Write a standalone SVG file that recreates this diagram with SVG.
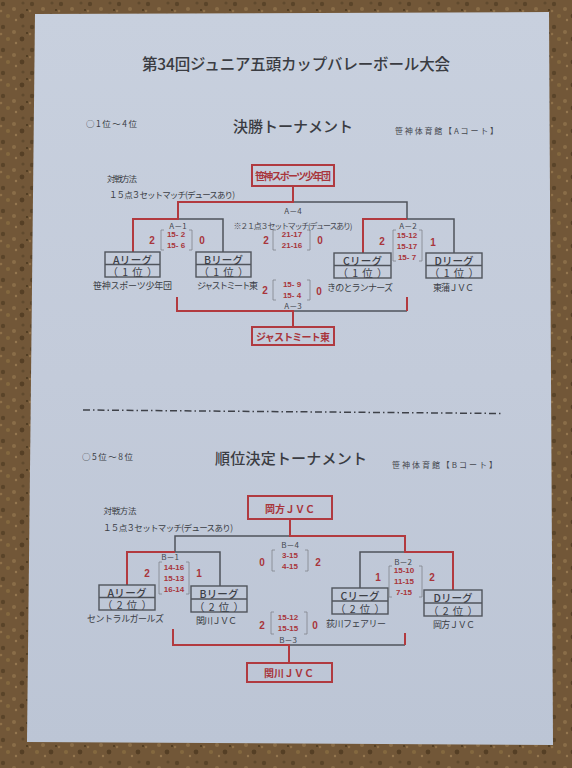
<svg xmlns="http://www.w3.org/2000/svg" width="572" height="768" viewBox="0 0 572 768">
<defs>
<pattern id="cork" width="29" height="23" patternUnits="userSpaceOnUse">
<rect width="29" height="23" fill="#725738"/>
<circle cx="3" cy="4" r="2.2" fill="#5a4429"/>
<circle cx="14" cy="9" r="2" fill="#8a6d48"/>
<circle cx="23" cy="3" r="1.6" fill="#604a2e"/>
<circle cx="8" cy="16" r="2.1" fill="#84683f"/>
<circle cx="22" cy="16" r="2.4" fill="#553f25"/>
<circle cx="16" cy="20" r="1.2" fill="#95774f"/>
<circle cx="1" cy="11" r="1.3" fill="#8e7049"/>
<circle cx="27" cy="10" r="1.1" fill="#4c391f"/>
</pattern>
<linearGradient id="paper" x1="0" y1="0" x2="0" y2="1">
<stop offset="0" stop-color="#c8d0de"/>
<stop offset="0.5" stop-color="#c3cbda"/>
<stop offset="1" stop-color="#bcc5d5"/>
</linearGradient>
<style>
text{font-family:"Noto Sans CJK JP","Noto Sans",sans-serif;fill:#3b3e45;dominant-baseline:central;text-anchor:middle}
.h1{font-size:15.5px;font-weight:500;fill:#3a3c42}
.h2{font-size:15px;font-weight:500;fill:#3a3c42}
.sm{font-size:8.5px}
.lbl{font-size:8px;fill:#45484f}
.team{font-size:9px;fill:#3b3e45}
.bx{font-size:10.5px;font-weight:500;fill:#3d4047}
.rk{font-weight:normal}
.sc{font-family:"Liberation Sans",Arial,sans-serif;font-size:8px;font-weight:bold;fill:#a8353b}
.n{font-family:"Liberation Sans",Arial,sans-serif;font-size:10px;font-weight:bold;fill:#a8353b}
.win{font-size:10px;font-weight:bold;fill:#a8353b}
.box{fill:none;stroke:#50545c;stroke-width:1.4}
.wbox{fill:none;stroke:#b03a40;stroke-width:2}
.red{fill:none;stroke:#b23a3f;stroke-width:2}
.blk{fill:none;stroke:#4f535b;stroke-width:1.5}
.brk{fill:none;stroke:#80848c;stroke-width:0.8}
</style>
</defs>
<rect width="572" height="768" fill="url(#cork)"/>
<polygon points="35,14 549,12 553,745 27,742" fill="url(#paper)"/>

<g id="header">
<text class="h1" x="296" y="63" textLength="308">第34回ジュニア五頭カップバレーボール大会</text>
</g>

<g id="sectionA-head">
<text class="sm" x="111.5" y="123" textLength="51">○1位～4位</text>
<text class="h2" x="293" y="125" textLength="120">決勝トーナメント</text>
<text class="lbl" x="446.5" y="130" font-size="10" textLength="103">笹神体育館【Aコート】</text>
<text class="sm" x="122" y="178" textLength="30">対戦方法</text>
<text class="sm" x="172" y="194" textLength="126">１５点３セットマッチ(デュースあり)</text>
</g>

<g id="connectors">
<!-- A section -->
<path class="blk" d="M293,202 H407 V219 H454 V253"/>
<path class="blk" d="M178,219 H223 V252"/>
<path class="blk" d="M293,311 H407"/>
<path class="red" d="M293,187 V202 H178 V219 H133 V252"/>
<path class="red" d="M407,219 H363 V253"/>
<path class="red" d="M177,297 V311 H293 V327"/>
<path class="red" d="M407,297 V311"/>
<!-- B section -->
<path class="blk" d="M290,536 H175 V552 H220 V586"/>
<path class="blk" d="M405,552 H360 V588"/>
<path class="blk" d="M289,645 H405"/>
<path class="red" d="M290,519 V536 H405 V552 H453 V590"/>
<path class="red" d="M175,552 H127 V585"/>
<path class="red" d="M173,629 V645 H289 V663"/>
<path class="red" d="M405,633 V645"/>
<!-- separator -->
<line x1="83" y1="410" x2="503" y2="413.5" stroke="#3e4148" stroke-width="1.5" stroke-dasharray="7,3,1.5,3"/>
</g>

<g id="A4-winner">
<rect class="wbox" x="252" y="165" width="82" height="21"/>
<text class="win" x="293" y="175.5" font-size="9.5" textLength="76">笹神スポーツ少年団</text>
</g>
<g id="A3-winner">
<rect class="wbox" x="252" y="327" width="82" height="18"/>
<text class="win" x="293" y="336" textLength="74">ジャストミート東</text>
</g>

<g id="A-league-A">
<rect class="box" x="105" y="252" width="55" height="25"/>
<line class="box" x1="105" y1="264.5" x2="160" y2="264.5"/>
<text class="bx"><tspan x="132.5" y="258.5" textLength="39">Aリーグ</tspan><tspan class="rk" x="132.5" y="271" textLength="50">（1位）</tspan></text>
<text class="team" x="132.5" y="285.5" textLength="79">笹神スポーツ少年団</text>
</g>
<g id="A-league-B">
<rect class="box" x="196" y="252" width="55" height="25"/>
<line class="box" x1="196" y1="264.5" x2="251" y2="264.5"/>
<text class="bx"><tspan x="223.5" y="258.5" textLength="39">Bリーグ</tspan><tspan class="rk" x="223.5" y="271" textLength="50">（1位）</tspan></text>
<text class="team" x="227.5" y="285.5" textLength="61">ジャストミート東</text>
</g>
<g id="A-league-C">
<rect class="box" x="334" y="253" width="57" height="25"/>
<line class="box" x1="334" y1="265.5" x2="391" y2="265.5"/>
<text class="bx"><tspan x="362.5" y="259.5" textLength="39">Cリーグ</tspan><tspan class="rk" x="362.5" y="272" textLength="50">（1位）</tspan></text>
<text class="team" x="360" y="287" textLength="66">きのとランナーズ</text>
</g>
<g id="A-league-D">
<rect class="box" x="426" y="253" width="56" height="25"/>
<line class="box" x1="426" y1="265.5" x2="482" y2="265.5"/>
<text class="bx"><tspan x="454" y="259.5" textLength="39">Dリーグ</tspan><tspan class="rk" x="454" y="272" textLength="50">（1位）</tspan></text>
<text class="team" x="453.5" y="287" textLength="41">東蒲ＪＶＣ</text>
</g>

<g id="A1-score">
<text class="lbl" x="178" y="225">A－1</text>
<text class="n" x="152" y="240">2</text>
<path class="brk" d="M164,230 H161 V250 H164 M189,230 H192 V250 H189"/>
<text class="sc" x="176" y="234.5">15- 2</text>
<text class="sc" x="176" y="245">15- 6</text>
<text class="n" x="202" y="240">0</text>
</g>
<g id="A4-score">
<text class="lbl" x="293" y="210">A－4</text>
<text class="lbl" x="293" y="225" textLength="119">※２１点３セットマッチ(デュースあり)</text>
<text class="n" x="266" y="240">2</text>
<path class="brk" d="M276,230 H273 V250 H276 M307,230 H310 V250 H307"/>
<text class="sc" x="292" y="234.5">21-17</text>
<text class="sc" x="292" y="245">21-16</text>
<text class="n" x="320" y="240">0</text>
</g>
<g id="A2-score">
<text class="lbl" x="408" y="225">A－2</text>
<text class="n" x="382" y="241">2</text>
<path class="brk" d="M396,230 H393 V261 H396 M419,230 H422 V261 H419"/>
<text class="sc" x="407" y="235">15-12</text>
<text class="sc" x="407" y="246">15-17</text>
<text class="sc" x="407" y="257">15- 7</text>
<text class="n" x="433" y="242">1</text>
</g>
<g id="A3-score">
<text class="n" x="265" y="290">2</text>
<path class="brk" d="M276,280 H273 V300 H276 M307,280 H310 V300 H307"/>
<text class="sc" x="292" y="284">15- 9</text>
<text class="sc" x="292" y="295">15- 4</text>
<text class="n" x="319" y="291">0</text>
<text class="lbl" x="293" y="305.5">A－3</text>
</g>

<g id="sectionB-head">
<text class="sm" x="107.5" y="456" textLength="51">○5位～8位</text>
<text class="h2" x="291" y="457" textLength="152">順位決定トーナメント</text>
<text class="lbl" x="444.5" y="464" font-size="10" textLength="105">笹神体育館【Bコート】</text>
<text class="sm" x="120" y="510" textLength="33">対戦方法</text>
<text class="sm" x="168" y="527" textLength="130">１５点３セットマッチ(デュースあり)</text>
</g>

<g id="B4-winner">
<rect class="wbox" x="248" y="496" width="84" height="23"/>
<text class="win" x="290" y="508" font-size="11" textLength="50">岡方ＪＶＣ</text>
</g>
<g id="B3-winner">
<rect class="wbox" x="247" y="663" width="85" height="19"/>
<text class="win" x="289" y="672.5" font-size="11" textLength="50">関川ＪＶＣ</text>
</g>

<g id="B-league-A">
<rect class="box" x="99" y="585" width="56" height="25"/>
<line class="box" x1="99" y1="597.5" x2="155" y2="597.5"/>
<text class="bx"><tspan x="127" y="591.5" textLength="39">Aリーグ</tspan><tspan class="rk" x="127" y="604" textLength="50">（2位）</tspan></text>
<text class="team" x="125.5" y="618.5" textLength="77">セントラルガールズ</text>
</g>
<g id="B-league-B">
<rect class="box" x="191" y="586" width="56" height="26"/>
<line class="box" x1="191" y1="599" x2="247" y2="599"/>
<text class="bx"><tspan x="219" y="592.5" textLength="39">Bリーグ</tspan><tspan class="rk" x="219" y="605.5" textLength="50">（2位）</tspan></text>
<text class="team" x="216.5" y="620.5" textLength="41">関川ＪＶＣ</text>
</g>
<g id="B-league-C">
<rect class="box" x="332" y="588" width="56" height="26"/>
<line class="box" x1="332" y1="601" x2="388" y2="601"/>
<text class="bx"><tspan x="360" y="594.5" textLength="39">Cリーグ</tspan><tspan class="rk" x="360" y="607.5" textLength="50">（2位）</tspan></text>
<text class="team" x="356" y="623" textLength="60">荻川フェアリー</text>
</g>
<g id="B-league-D">
<rect class="box" x="424" y="590" width="58" height="26"/>
<line class="box" x1="424" y1="603" x2="482" y2="603"/>
<text class="bx"><tspan x="453" y="596.5" textLength="39">Dリーグ</tspan><tspan class="rk" x="453" y="609.5" textLength="50">（2位）</tspan></text>
<text class="team" x="454" y="624.5" textLength="42">岡方ＪＶＣ</text>
</g>

<g id="B1-score">
<text class="lbl" x="170" y="556">B－1</text>
<text class="n" x="147" y="573">2</text>
<path class="brk" d="M162,562 H159 V594 H162 M186,562 H189 V594 H186"/>
<text class="sc" x="174" y="567">14-16</text>
<text class="sc" x="174" y="578">15-13</text>
<text class="sc" x="174" y="589">16-14</text>
<text class="n" x="199" y="573">1</text>
</g>
<g id="B4-score">
<text class="lbl" x="290" y="544">B－4</text>
<text class="n" x="262" y="562">0</text>
<path class="brk" d="M275,550 H272 V571 H275 M305,550 H308 V571 H305"/>
<text class="sc" x="290" y="555">3-15</text>
<text class="sc" x="290" y="566">4-15</text>
<text class="n" x="318" y="562">2</text>
</g>
<g id="B2-score">
<text class="lbl" x="403" y="561.5">B－2</text>
<text class="n" x="378" y="577">1</text>
<path class="brk" d="M392,566 H389 V597 H392 M419,566 H422 V597 H419"/>
<text class="sc" x="404" y="570.5">15-10</text>
<text class="sc" x="404" y="581">11-15</text>
<text class="sc" x="404" y="592">7-15</text>
<text class="n" x="432" y="577">2</text>
</g>
<g id="B3-score">
<text class="n" x="262" y="625">2</text>
<path class="brk" d="M274,612 H271 V634 H274 M304,612 H307 V634 H304"/>
<text class="sc" x="288" y="617">15-12</text>
<text class="sc" x="288" y="628.5">15-15</text>
<text class="n" x="315" y="625">0</text>
<text class="lbl" x="288" y="639.5">B－3</text>
</g>
</svg>
